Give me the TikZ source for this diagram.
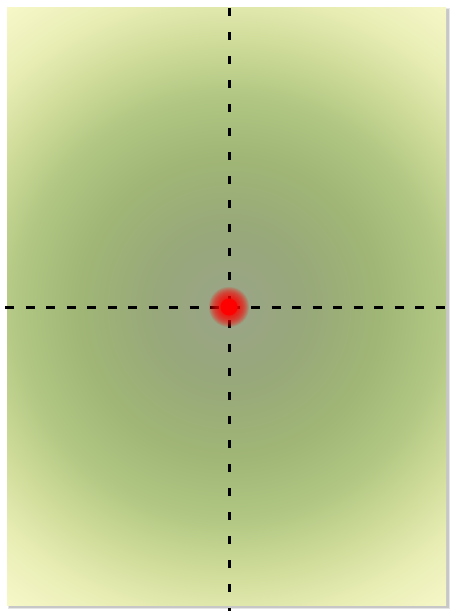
\documentclass[tikz,border=0pt]{standalone}
\definecolor{bgA}{RGB}{154,164,136}
\definecolor{bgB}{RGB}{152,168,122}
\definecolor{bgC}{RGB}{160,182,118}
\definecolor{bgD}{RGB}{176,198,130}
\definecolor{bgE}{RGB}{206,219,152}
\definecolor{bgF}{RGB}{232,237,180}
\definecolor{bgG}{RGB}{248,248,202}
\pgfdeclareradialshading{bgshade}{\pgfpoint{0bp}{0bp}}{color(0bp)=(bgA); color(5bp)=(bgB); color(10bp)=(bgC); color(14bp)=(bgD); color(17.5bp)=(bgE); color(21bp)=(bgF); color(25bp)=(bgG); color(50bp)=(bgG)}
\tikzset{
  dashline/.style={line width=3pt, draw=black, line cap=butt},
  reddot/.style={fill=red, fill opacity=0.13}
}
\begin{document}
\begin{tikzpicture}[x=1pt,y=-1pt]
\useasboundingbox[fill=white] (0,0) rectangle (451,611);
% soft shadow
\fill[black!10] (8,8) rectangle (450,609);
\fill[black!22] (9,9) rectangle (448.5,607.5);
% shaded panel
\begin{scope}
\clip (7,7) rectangle (446,605);
\shade[shading=bgshade] (-146,-68) rectangle (604,682);
\end{scope}
% dashed axes
\coordinate (vt) at (229,8);
\coordinate (vb) at (229,611);
\coordinate (hl) at (5,307);
\coordinate (hr) at (446,307);
\draw[dashline, dash pattern=on 7.5pt off 16.5pt] (vt) -- (vb);
\draw[dashline, dash pattern=on 9pt off 11.5pt] (hl) -- (hr);
% red blurred dot
\coordinate (dot) at (229,307);
\foreach \r in {20,19,...,9} {\fill[reddot] (dot) circle (\r pt);}
\fill[red] (dot) circle (8.5pt);
\end{tikzpicture}
\end{document}
